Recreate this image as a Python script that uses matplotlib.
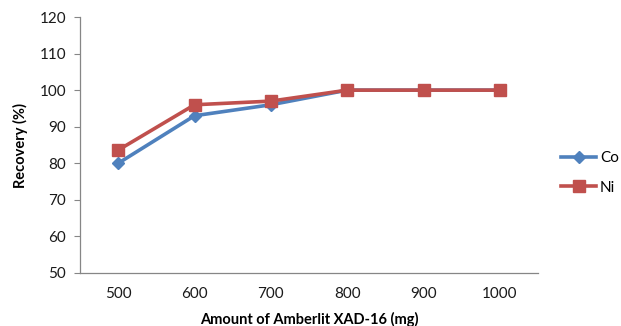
import matplotlib
matplotlib.use("Agg")
import matplotlib.pyplot as plt

plt.rcParams['font.family'] = ['Lato', 'DejaVu Sans']

amounts = ["500", "600", "700", "800", "900", "1000"]
co_recovery = [80, 93, 96, 100, 100, 100]
ni_recovery = [83.6, 96, 97, 100, 100, 100]
y_ticks = [50, 60, 70, 80, 90, 100, 110, 120]

W, H = 621, 326
fig = plt.figure(figsize=(W / 100, H / 100), dpi=100)
ax = fig.add_axes([80 / W, 1 - 273 / H, (538 - 80) / W, (273 - 17) / H])

x = list(range(len(amounts)))
ax.plot(x, co_recovery, color="#4F81BD", lw=2.6, marker="D", ms=6.5,
        label="Co", zorder=3)
ax.plot(x, ni_recovery, color="#C0504D", lw=2.6, marker="s", ms=8.5,
        label="Ni", zorder=4)

ax.set_xlim(-0.5, len(amounts) - 0.5)
ax.set_ylim(50, 120)
ax.set_xticks(x)
ax.set_xticklabels(amounts)
ax.set_yticks(y_ticks)

for side in ("top", "right"):
    ax.spines[side].set_visible(False)
for side in ("left", "bottom"):
    ax.spines[side].set_color("#868686")
    ax.spines[side].set_linewidth(0.9)

ax.tick_params(axis="y", direction="out", length=4, color="#868686",
               labelsize=11, pad=6, labelcolor="#1a1a1a")
ax.tick_params(axis="x", length=0, labelsize=11, pad=10, labelcolor="#1a1a1a")

ax.set_xlabel("Amount of Amberlit XAD-16 (mg)", fontsize=10.5,
              fontweight="bold", labelpad=8)
ax.set_ylabel("Recovery (%)", fontsize=10.5, fontweight="bold", labelpad=8)

fig.legend(loc="center left", bbox_to_anchor=(561 / W, 1 - 173 / H),
           frameon=False, fontsize=11, handlelength=2.3, handletextpad=0.25,
           labelspacing=1.0, borderpad=0, borderaxespad=0)

fig.savefig("out.png", dpi=100)
